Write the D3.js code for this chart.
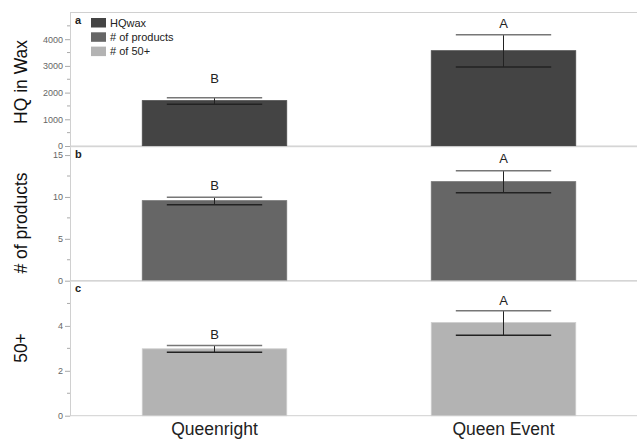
<!DOCTYPE html>
<html><head><meta charset="utf-8">
<script src="https://cdn.jsdelivr.net/npm/d3@7"></script>
<style>body{margin:0;background:#fff;font-family:Arial,"Liberation Sans",sans-serif;}</style>
</head><body><svg id="c" width="637" height="439"></svg>
<script>
const categories = ["Queenright", "Queen Event"];
const hqMean = [1700, 3570], hqLow = [1560, 2960], hqHigh = [1810, 4170];
const prodMean = [9.56, 11.83], prodLow = [9.08, 10.51], prodHigh = [9.96, 13.14];
const fiftyMean = [2.98, 4.15], fiftyLow = [2.83, 3.58], fiftyHigh = [3.13, 4.67];
const hqLetters = ["B", "A"], hqLetterY = [2350, 4410];
const prodLetters = ["B", "A"], prodLetterY = [10.83, 14.0];
const fiftyLetters = ["B", "A"], fiftyLetterY = [3.42, 4.93];
const hqTicks = [0, 1000, 2000, 3000, 4000];
const prodTicks = [0, 5, 10, 15];
const fiftyTicks = [0, 2, 4];
const legendLabels = ["HQwax", "# of products", "# of 50+"];
const colors = ["#444444", "#666666", "#b3b3b3"];

const svg = d3.select("#c");
const left = 70, right = 648;
const x = d3.scaleBand().domain(categories).range([left, right]).paddingInner(0.5).paddingOuter(0.25);

const panels = [
  {key:"a", title:"HQ in Wax", mean:hqMean, low:hqLow, high:hqHigh, letters:hqLetters, ly:hqLetterY,
   ticks:hqTicks, minor:500, domain:[0,5000], range:[146,12.5], color:colors[0], titleY:82},
  {key:"b", title:"# of products", mean:prodMean, low:prodLow, high:prodHigh, letters:prodLetters, ly:prodLetterY,
   ticks:prodTicks, minor:2.5, domain:[0,16], range:[280.7,146.7], color:colors[1], titleY:223},
  {key:"c", title:"50+", mean:fiftyMean, low:fiftyLow, high:fiftyHigh, letters:fiftyLetters, ly:fiftyLetterY,
   ticks:fiftyTicks, minor:1, domain:[0,6], range:[415.7,281], color:colors[2], titleY:348}
];

panels.forEach(p => {
  const y = d3.scaleLinear().domain(p.domain).range(p.range);
  const g = svg.append("g");
  g.append("line").attr("x1", left).attr("x2", right).attr("y1", p.range[1]).attr("y2", p.range[1]).attr("stroke", "#d0d0d0");
  g.append("line").attr("x1", left).attr("x2", right).attr("y1", p.range[0]).attr("y2", p.range[0]).attr("stroke", "#d0d0d0");
  const minorTicks = d3.range(p.minor, p.domain[1], p.minor).filter(v => !p.ticks.includes(v));
  g.selectAll(".mt").data(minorTicks).join("line")
    .attr("x1", left - 3).attr("x2", left).attr("y1", d => y(d)).attr("y2", d => y(d)).attr("stroke", "#aaa");
  const ax = g.append("g").attr("transform", `translate(${left},0)`)
    .call(d3.axisLeft(y).tickValues(p.ticks).tickFormat(d3.format("d")).tickSize(5).tickSizeOuter(0).tickPadding(2));
  ax.select(".domain").attr("stroke", "#d0d0d0");
  ax.selectAll(".tick line").attr("stroke", "#aaa");
  ax.selectAll(".tick text").attr("fill", "#666").style("font-size", "9px").style("font-family", "Arial, 'Liberation Sans', sans-serif");
  g.selectAll(".bar").data(categories).join("rect")
    .attr("x", d => x(d)).attr("width", x.bandwidth())
    .attr("y", (d, i) => y(p.mean[i])).attr("height", (d, i) => y(0) - y(p.mean[i]))
    .attr("fill", p.color).attr("stroke", d3.color(p.color).brighter(0.4)).attr("stroke-width", 0.8);
  const cap = x.bandwidth() * 0.33;
  categories.forEach((c, i) => {
    const cx = x(c) + x.bandwidth() / 2;
    g.append("line").attr("x1", cx).attr("x2", cx).attr("y1", y(p.high[i])).attr("y2", y(p.low[i])).attr("stroke", "#222").attr("stroke-width", 1);
    g.append("line").attr("x1", cx - cap).attr("x2", cx + cap).attr("y1", y(p.high[i])).attr("y2", y(p.high[i])).attr("stroke", "#777").attr("stroke-width", 1.5);
    g.append("line").attr("x1", cx - cap).attr("x2", cx + cap).attr("y1", y(p.low[i])).attr("y2", y(p.low[i])).attr("stroke", "#222").attr("stroke-width", 1.5);
    g.append("text").attr("x", cx).attr("y", y(p.ly[i])).attr("text-anchor", "middle")
      .attr("fill", "#222").style("font-size", "13px").text(p.letters[i]);
  });
  g.append("text").attr("x", 75).attr("y", p.range[1] + 11).attr("fill", "#222")
    .style("font-size", "11px").style("font-weight", "bold").text(p.key);
  g.append("text").attr("transform", `translate(27,${p.titleY}) rotate(-90)`).attr("text-anchor", "middle")
    .attr("fill", "#111").style("font-size", "17.5px").text(p.title);
});

svg.selectAll(".xl").data(categories).join("text")
  .attr("x", d => x(d) + x.bandwidth() / 2).attr("y", 435).attr("text-anchor", "middle")
  .attr("fill", "#222").style("font-size", "17.5px").text(d => d);

const lg = svg.append("g");
legendLabels.forEach((l, i) => {
  lg.append("rect").attr("x", 91).attr("y", 18 + i * 14.3).attr("width", 15).attr("height", 9.5).attr("fill", colors[i]);
  lg.append("text").attr("x", 110).attr("y", 26.7 + i * 14.3).attr("fill", "#222").style("font-size", "11px").text(l);
});
</script></body></html>
